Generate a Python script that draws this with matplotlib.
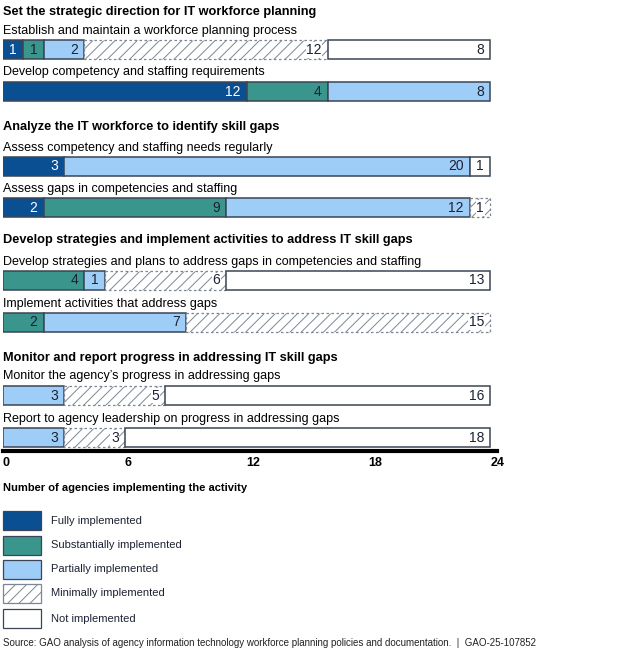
import numpy as np
import matplotlib.pyplot as plt
from matplotlib.patches import Rectangle

plt.rcParams['font.family'] = ['Liberation Sans', 'DejaVu Sans']
plt.rcParams['hatch.linewidth'] = 0.7

categories = ['Fully implemented', 'Substantially implemented', 'Partially implemented',
              'Minimally implemented', 'Not implemented']

headings = ['Set the strategic direction for IT workforce planning',
            'Analyze the IT workforce to identify skill gaps',
            'Develop strategies and implement activities to address IT skill gaps',
            'Monitor and report progress in addressing IT skill gaps']

activities = ['Establish and maintain a workforce planning process',
              'Develop competency and staffing requirements',
              'Assess competency and staffing needs regularly',
              'Assess gaps in competencies and staffing',
              'Develop strategies and plans to address gaps in competencies and staffing',
              'Implement activities that address gaps',
              "Monitor the agency\u2019s progress in addressing gaps",
              'Report to agency leadership on progress in addressing gaps']

fully = [1, 12, 3, 2, 0, 0, 0, 0]
substantially = [1, 4, 0, 9, 4, 2, 0, 0]
partially = [2, 8, 20, 12, 1, 7, 3, 3]
minimally = [12, 0, 0, 1, 6, 15, 5, 3]
not_impl = [8, 0, 1, 0, 13, 0, 16, 18]

ticks = [0, 6, 12, 18, 24]
source = ('Source: GAO analysis of agency information technology workforce planning '
          'policies and documentation.  |  GAO-25-107852')

colors = ['#0b4f93', '#3a968c', '#9ecdf7', 'white', 'white']
text_colors = ['white', '#1c2233', '#1c2233', '#1c2233', '#1c2233']
edge = '#3b4555'
hatch_col = '#7d8696'

# layout in pixels (figure is 618x657)
bar_y = [49.5, 91, 166, 207.5, 280, 322, 395, 437.5]
heading_y = [12, 127, 240, 358]
px_unit = 20.3

fig = plt.figure(figsize=(6.18, 6.57), dpi=100)
W, H = 618, 657
ax_bottom = 451
ax = fig.add_axes([3 / W, 1 - ax_bottom / H, 494 / W, ax_bottom / H])
ax.set_xlim(0, 494 / px_unit)
ax.set_ylim(ax_bottom, 0)

series = [fully, substantially, partially, minimally, not_impl]
for i in range(len(activities)):
    left = 0
    for k, vals in enumerate(series):
        v = vals[i]
        if v == 0:
            continue
        if k == 3:
            ax.barh(bar_y[i], v, left=left, height=19, color='white', edgecolor=hatch_col,
                    hatch='///', linewidth=0.9, linestyle=(0, (2, 2)))
        else:
            ax.barh(bar_y[i], v, left=left, height=19, color=colors[k], edgecolor=edge,
                    linewidth=1.1)
        if v == 1:
            tx, ha = left + 0.5, 'center'
        else:
            tx, ha = left + v - 0.3, 'right'
        kw = {}
        if k == 3:
            kw['bbox'] = dict(facecolor='white', edgecolor='none', pad=0.5)
        ax.text(tx, bar_y[i] + 0.5, str(v), ha=ha, va='center', fontsize=10,
                color=text_colors[k], **kw)
        left += v

for s in ['top', 'right', 'left']:
    ax.spines[s].set_visible(False)
ax.spines['bottom'].set_linewidth(3)
ax.spines['bottom'].set_color('black')
ax.set_yticks([])
ax.set_xticks(ticks)
ax.set_xticklabels([str(t) for t in ticks], fontweight='bold', fontsize=9, ha='left')
ax.tick_params(axis='x', length=0, pad=4)
ax.patch.set_visible(False)

# overlay for text and legend, in pixel coordinates
ov = fig.add_axes([0, 0, 1, 1], zorder=-1)
ov.set_xlim(0, W)
ov.set_ylim(H, 0)
ov.axis('off')

for j, h in enumerate(headings):
    ov.text(3, heading_y[j], h, fontsize=9.2, fontweight='bold', va='center', ha='left')
for i, a in enumerate(activities):
    ov.text(3, bar_y[i] - 18.5, a, fontsize=9, va='center', ha='left')

ov.text(3, 488, 'Number of agencies implementing the activity', fontsize=8,
        fontweight='bold', va='center', ha='left')
leg_y = [511, 536, 560, 584, 609]
for k, c in enumerate(categories):
    if k == 3:
        ov.add_patch(Rectangle((3, leg_y[k]), 38, 19, facecolor='white', edgecolor=hatch_col,
                               hatch='///', linewidth=0.9))
    else:
        ov.add_patch(Rectangle((3, leg_y[k]), 38, 19, facecolor=colors[k], edgecolor=edge,
                               linewidth=0.9))
    ov.text(51, leg_y[k] + 9.5, c, fontsize=8, va='center', ha='left', color='#1c2233')

ov.text(3, 643, source, fontsize=7, va='center', ha='left', color='#222222')

fig.savefig('out.png', dpi=100)
